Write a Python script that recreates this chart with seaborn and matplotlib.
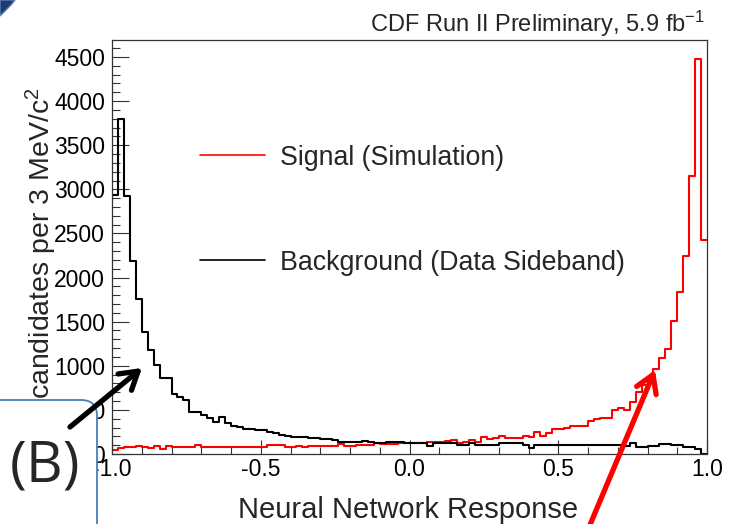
import numpy as np
import pandas as pd
import matplotlib
matplotlib.use("Agg")
import matplotlib.pyplot as plt
from matplotlib.patches import FancyBboxPatch, FancyArrowPatch, Polygon
from matplotlib.lines import Line2D
from matplotlib.ticker import FixedLocator, MultipleLocator
from matplotlib.transforms import IdentityTransform
import seaborn as sns

# Neural network response histograms, 100 bins between -1 and 1
nn_range = (-1.0, 1.0)
n_bins = 100

background_counts = [
    2940, 3795, 2930, 2190, 1755, 1380, 1175, 1010, 860, 860,
    680, 650, 612, 480, 480, 442, 405, 367, 423, 355,
    317, 302, 280, 280, 272, 272, 253, 234, 215, 208,
    197, 189, 189, 178, 178, 170, 170, 162, 136, 136,
    141, 141, 147, 141, 124, 128, 136, 136, 136, 128,
    121, 121, 121, 94, 121, 121, 121, 121, 102, 102,
    121, 98, 98, 98, 98, 121, 121, 121, 121, 102,
    65, 102, 102, 102, 102, 102, 102, 102, 105, 105,
    105, 105, 102, 102, 102, 102, 91, 121, 83, 83,
    91, 91, 113, 113, 102, 102, 83, 83, 57, 5,
]

signal_counts = [
    45, 70, 76, 80, 95, 83, 64, 91, 53, 91,
    76, 76, 76, 76, 102, 76, 76, 76, 83, 83,
    76, 76, 80, 80, 83, 83, 98, 98, 98, 83,
    83, 91, 76, 91, 91, 91, 91, 91, 113, 91,
    91, 105, 105, 105, 121, 110, 110, 110, 121, 125,
    125, 125, 130, 136, 136, 139, 150, 159, 121, 139,
    159, 139, 189, 166, 178, 208, 185, 178, 178, 208,
    196, 253, 208, 234, 280, 280, 291, 317, 317, 317,
    378, 395, 412, 412, 499, 518, 499, 593, 706, 782,
    876, 960, 1085, 1187, 1512, 1840, 2245, 3155, 4478, 2426,
]

sample_names = ["Background", "Signal"]
legend_labels = ["Signal (Simulation)", "Background (Data Sideband)"]
sample_colors = {"Background": "#000000", "Signal": "#ff0000"}

y_ticks = [0, 500, 1000, 1500, 2000, 2500, 3000, 3500, 4000, 4500]
x_ticks = [-1.0, -0.5, 0.0, 0.5, 1.0]
x_tick_labels = ["-1.0", "-0.5", "0.0", "0.5", "1.0"]

title_text = "CDF Run II Preliminary, 5.9 fb$^{-1}$"
x_title = "Neural Network Response"
y_title = "candidates per 3 MeV/c$^{2}$"
tag_text = "(B)"

# ---------------------------------------------------------------------------
sns.set_style("ticks")
plt.rcParams["font.family"] = ["Liberation Sans", "DejaVu Sans"]
plt.rcParams["axes.unicode_minus"] = False
plt.rcParams["mathtext.fontset"] = "custom"
plt.rcParams["mathtext.rm"] = "Liberation Sans"
plt.rcParams["mathtext.it"] = "Liberation Sans:italic"
plt.rcParams["mathtext.bf"] = "Liberation Sans:bold"
plt.rcParams["mathtext.default"] = "regular"

W, H = 736, 524
fig = plt.figure(figsize=(W / 100, H / 100), dpi=100)
fig.patch.set_facecolor("white")

ax_left, ax_right, ax_top, ax_bottom = 112, 707, 40, 454
ax = fig.add_axes([ax_left / W, (H - ax_bottom) / H,
                   (ax_right - ax_left) / W, (ax_bottom - ax_top) / H])
ax.set_facecolor("white")

edges = np.linspace(nn_range[0], nn_range[1], n_bins + 1)
centers = 0.5 * (edges[:-1] + edges[1:])
df = pd.concat([
    pd.DataFrame({"response": centers, "count": background_counts, "sample": "Background"}),
    pd.DataFrame({"response": centers, "count": signal_counts, "sample": "Signal"}),
], ignore_index=True)

sns.histplot(data=df, x="response", weights="count", hue="sample",
             hue_order=sample_names, palette=sample_colors,
             bins=n_bins, binrange=nn_range, element="step", fill=False,
             linewidth=1.5, legend=False, ax=ax)

ax.set_xlim(*nn_range)
ax.set_ylim(0, 4693)
ax.set_xlabel("")
ax.set_ylabel("")

ax.xaxis.set_major_locator(FixedLocator(x_ticks))
ax.set_xticklabels(x_tick_labels)
ax.xaxis.set_minor_locator(MultipleLocator(0.1))
ax.yaxis.set_major_locator(FixedLocator(y_ticks))
ax.set_yticklabels([str(v) for v in y_ticks])
ax.yaxis.set_minor_locator(MultipleLocator(100))

ax.tick_params(which="both", direction="in", top=False, right=False,
               color="#333333", width=0.8, labelsize=16.5, labelcolor="black")
ax.tick_params(axis="y", which="major", length=12.5, pad=5)
ax.tick_params(axis="y", which="minor", length=6)
ax.tick_params(axis="x", which="major", length=10, pad=3)
ax.tick_params(axis="x", which="minor", length=5)
for side in ["left", "right", "top", "bottom"]:
    ax.spines[side].set_visible(True)
    ax.spines[side].set_color("#333333")
    ax.spines[side].set_linewidth(0.9)


def fx(px):
    return px / W


def fy(py):
    return (H - py) / H


# titles
fig.text(fx(705), fy(32), title_text, ha="right", va="baseline", fontsize=17)
fig.text(fx(408), fy(518), x_title, ha="center", va="baseline", fontsize=21)
fig.text(fx(41), fy(399), y_title, rotation=90, ha="center", va="bottom",
         fontsize=20.5, zorder=1)

# legend entries
legend_rows = [(155, 165, sample_colors["Signal"], legend_labels[0]),
               (260, 270, sample_colors["Background"], legend_labels[1])]
for line_y, base_y, col, lab in legend_rows:
    fig.add_artist(Line2D([fx(200), fx(265)], [fy(line_y), fy(line_y)],
                          color=col, lw=1.2, transform=fig.transFigure))
    fig.text(fx(280), fy(base_y), lab, ha="left", va="baseline", fontsize=19.3)

# slide decoration in the top-left corner
ident = IdentityTransform()
corner = Polygon([(0, H), (15, H), (11, H - 5), (5, H - 11), (0, H - 16)],
                 closed=True, facecolor="#1f3b73", edgecolor="#5a7fb5",
                 lw=1.0, transform=ident, zorder=4)
fig.add_artist(corner)

# rounded call-out box with its tag
box = FancyBboxPatch((-30, -30), 127, H - 400 + 30,
                     boxstyle="round,pad=0,rounding_size=16",
                     facecolor="white", edgecolor="#4a7ebb", lw=1.3,
                     transform=ident, zorder=5)
fig.add_artist(box)
fig.text(fx(45), fy(467), tag_text, ha="center", va="center", fontsize=41,
         family=["Open Sans", "DejaVu Sans"], zorder=6)

# pointer arrows
arrow_style = "->,head_length=0.62,head_width=0.38"
black_arrow = FancyArrowPatch((70, H - 427), (142, H - 368),
                              arrowstyle=arrow_style, mutation_scale=20,
                              lw=3.8, color="black", shrinkA=0, shrinkB=0,
                              capstyle="round", joinstyle="round",
                              transform=ident, zorder=7)
red_arrow = FancyArrowPatch((587, -8), (655, H - 370),
                            arrowstyle=arrow_style, mutation_scale=20,
                            lw=3.8, color="#ff0000", shrinkA=0, shrinkB=0,
                            capstyle="round", joinstyle="round",
                            transform=ident, zorder=7)
fig.add_artist(black_arrow)
fig.add_artist(red_arrow)

fig.savefig("out.png", dpi=100, facecolor="white")
